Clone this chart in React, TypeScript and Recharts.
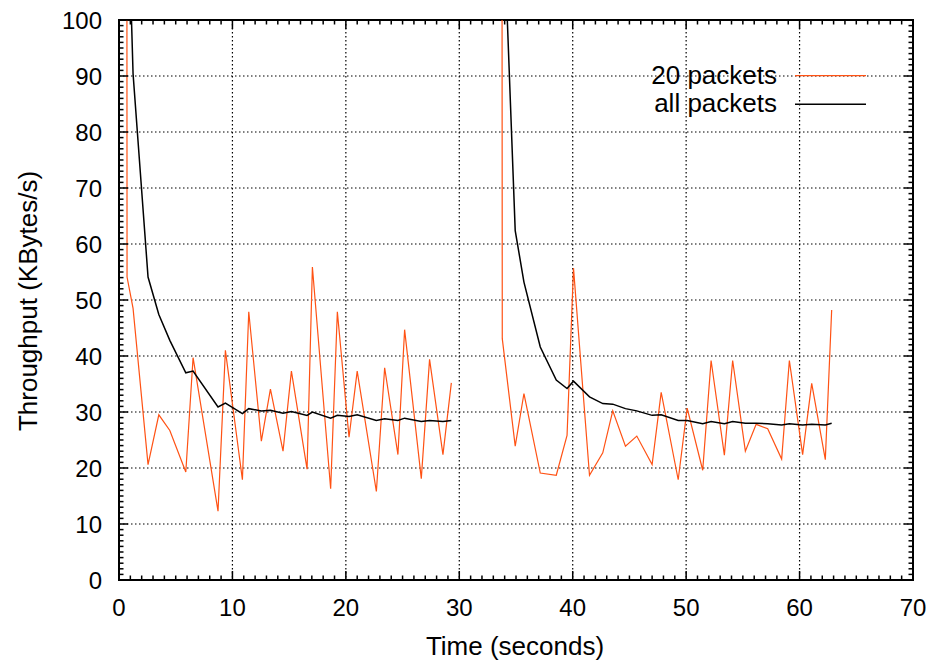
import { LineChart, Line, XAxis, YAxis, CartesianGrid, ReferenceArea } from 'recharts'

// first transfer
const TIME_A = [0.66, 0.71, 1.24, 2.56, 3.51, 4.48, 5.89, 6.53, 8.73, 9.38, 10.88, 11.44, 12.55, 13.35, 14.46, 15.2, 16.58, 17.05, 18.66, 19.25, 20.28, 21.0, 22.69, 23.42, 24.59, 25.18, 26.65, 27.38, 28.56, 29.3]
const FEW_A = [260, 54.1, 48.5, 20.6, 29.5, 26.7, 19.3, 39.7, 12.3, 41.0, 17.9, 47.9, 24.8, 34.1, 23.0, 37.3, 19.8, 55.9, 16.3, 47.9, 25.5, 37.3, 15.8, 37.9, 22.4, 44.7, 18.1, 39.4, 22.4, 35.2]
const ALL_A = [null, 127, 90.4, 54.1, 47.4, 42.8, 37.0, 37.3, 30.9, 31.6, 29.7, 30.6, 30.2, 30.3, 29.8, 30.1, 29.4, 30.0, 28.9, 29.4, 29.2, 29.5, 28.5, 28.8, 28.5, 28.9, 28.3, 28.5, 28.3, 28.5]

// second transfer
const TIME_B = [33.72, 33.79, 34.93, 35.7, 37.14, 38.55, 39.5, 40.07, 41.48, 42.65, 43.53, 44.65, 45.65, 47.0, 47.8, 49.3, 50.09, 51.46, 52.2, 53.37, 54.1, 55.22, 56.17, 57.19, 58.42, 59.1, 60.27, 61.07, 62.27, 62.83]
const FEW_B = [260, 43.1, 23.9, 33.3, 19.1, 18.7, 25.8, 55.7, 18.7, 22.7, 30.2, 23.9, 25.7, 20.6, 33.5, 17.9, 30.7, 19.6, 39.2, 22.3, 39.2, 23.0, 27.8, 27.0, 21.6, 39.2, 22.4, 35.1, 21.5, 48.2]
const ALL_B = [null, 124, 62.4, 53.2, 41.6, 35.7, 34.2, 35.5, 32.7, 31.5, 31.4, 30.6, 30.2, 29.4, 29.5, 28.5, 28.5, 27.9, 28.3, 27.9, 28.3, 28.0, 28.0, 27.9, 27.7, 27.9, 27.7, 27.8, 27.7, 28.0]

const X_TICKS = Array.from({ length: 71 }, (_, i) => i)
const Y_TICKS = Array.from({ length: 101 }, (_, i) => i)
const X_GRID = [10, 20, 30, 40, 50, 60]
const Y_GRID = [10, 20, 30, 40, 50, 60, 70, 80, 90]

const SERIES = [
  { key: 'few', name: '20 packets', color: '#ff5214', width: 1.2 },
  { key: 'all', name: 'all packets', color: '#000000', width: 1.5 },
]

const toRows = (times: number[], few: (number | null)[], all: (number | null)[]) =>
  times.map((t, i) => ({ t, few: few[i], all: all[i] }))

// a null row between the two transfers breaks both lines
const data = [
  ...toRows(TIME_A, FEW_A, ALL_A),
  { t: 31.5, few: null, all: null },
  ...toRows(TIME_B, FEW_B, ALL_B),
]

const W = 918
const H = 657
const PLOT_LEFT = 111
const PLOT_TOP = 12
const PLOT_RIGHT = 905
const PLOT_BOTTOM = 572
const FONT = '"Liberation Sans", Arial, Helvetica, sans-serif'

function TimeTick({ x, payload }: any) {
  const v = payload.value
  const major = v % 10 === 0
  const len = major ? 9 : 4.5
  return (
    <g>
      <line x1={x} y1={PLOT_BOTTOM} x2={x} y2={PLOT_BOTTOM - len} stroke="#000" strokeWidth={1.5} />
      <line x1={x} y1={PLOT_TOP} x2={x} y2={PLOT_TOP + len} stroke="#000" strokeWidth={1.5} />
      {major && (
        <text x={x} y={608} textAnchor="middle" fontSize={24} fontFamily={FONT} fill="#000">
          {v}
        </text>
      )}
    </g>
  )
}

function RateTick({ y, payload }: any) {
  const v = payload.value
  const major = v % 10 === 0
  const len = major ? 9 : 4.5
  return (
    <g>
      <line x1={PLOT_LEFT} y1={y} x2={PLOT_LEFT + len} y2={y} stroke="#000" strokeWidth={1.5} />
      <line x1={PLOT_RIGHT} y1={y} x2={PLOT_RIGHT - len} y2={y} stroke="#000" strokeWidth={1.5} />
      {major && (
        <text x={94} y={y + 8.5} textAnchor="end" fontSize={24} fontFamily={FONT} fill="#000">
          {v}
        </text>
      )}
    </g>
  )
}

function Labels() {
  return (
    <g fontFamily={FONT} fill="#000">
      <text x={507} y={647} textAnchor="middle" fontSize={26}>
        Time (seconds)
      </text>
      <text transform="translate(29,293) rotate(-90)" textAnchor="middle" fontSize={26}>
        Throughput (KBytes/s)
      </text>
      {SERIES.map((s, i) => (
        <g key={s.key}>
          <text x={769} y={76 + i * 27.5} textAnchor="end" fontSize={26}>
            {s.name}
          </text>
          <line x1={787} x2={858} y1={67.7 + i * 28.5} y2={67.7 + i * 28.5} stroke={s.color} strokeWidth={s.width} />
        </g>
      ))}
    </g>
  )
}

export default function App() {
  return (
    <LineChart width={W} height={H} data={data} margin={{ top: 12, right: 13, bottom: 0, left: 0 }}>
      <CartesianGrid
        stroke="#000"
        strokeWidth={1.2}
        strokeDasharray="1.5 2.5"
        verticalValues={X_GRID}
        horizontalValues={Y_GRID}
      />
      <XAxis
        type="number"
        dataKey="t"
        domain={[0, 70]}
        ticks={X_TICKS}
        interval={0}
        height={85}
        tickLine={false}
        axisLine={false}
        tick={TimeTick}
      />
      <YAxis
        type="number"
        domain={[0, 100]}
        allowDataOverflow
        ticks={Y_TICKS}
        interval={0}
        width={111}
        tickLine={false}
        axisLine={false}
        tick={RateTick}
      />
      {SERIES.map((s) => (
        <Line
          key={s.key}
          type="linear"
          dataKey={s.key}
          name={s.name}
          stroke={s.color}
          strokeWidth={s.width}
          dot={false}
          activeDot={false}
          connectNulls={false}
          isAnimationActive={false}
        />
      ))}
      <ReferenceArea x1={0} x2={70} y1={0} y2={100} fill="none" stroke="#000" strokeWidth={2} />
      <Labels />
    </LineChart>
  )
}
